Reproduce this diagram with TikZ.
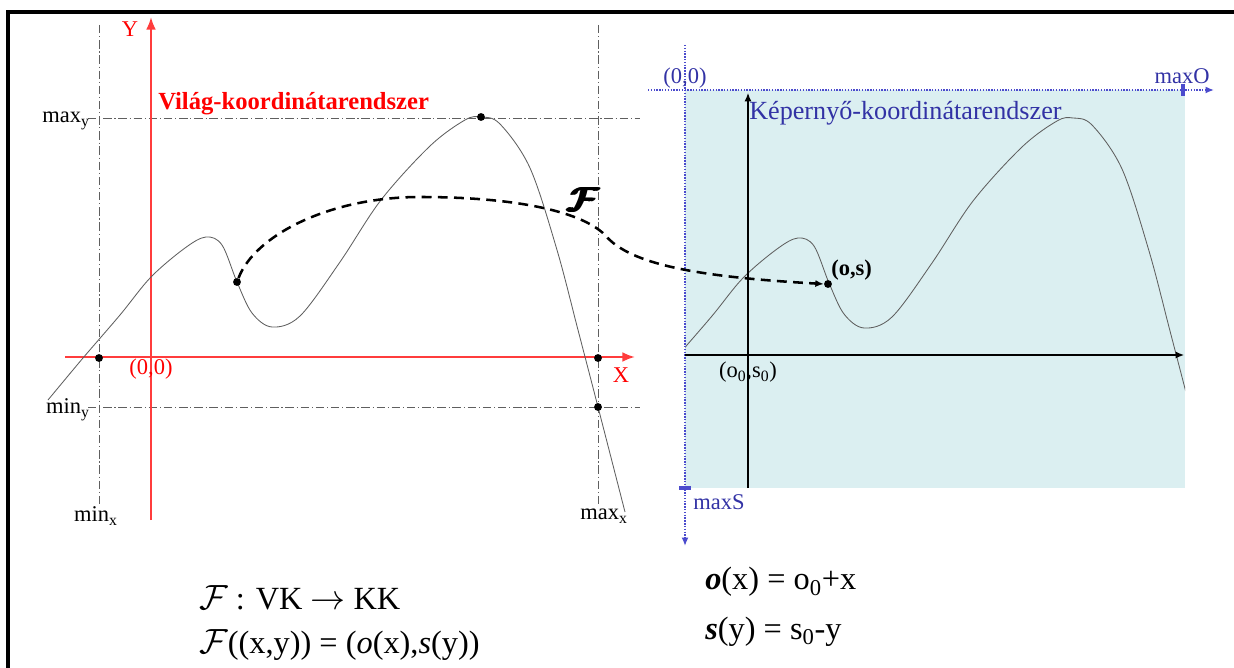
\documentclass[tikz,border=0pt]{standalone}
\usepackage{fontspec}
\setmainfont{Liberation Serif}
\usepackage{bm}
\usetikzlibrary{arrows.meta}

\definecolor{vilagpiros}{RGB}{255,0,0}
\definecolor{tengelypiros}{RGB}{255,60,60}
\definecolor{kepkek}{RGB}{50,50,165}
\definecolor{pontkek}{RGB}{75,75,205}
\definecolor{kepernyo}{RGB}{219,239,241}
\definecolor{gorbeszurke}{RGB}{95,95,95}

% vastag F (kezi felulnyomassal)
\newcommand{\vastagF}{\rlap{$\bm{\mathcal{F}}$}\kern0.035em\rlap{$\bm{\mathcal{F}}$}\kern0.035em$\bm{\mathcal{F}}$}

\tikzset{
  gorbe/.pic={
    \draw[gorbeszurke, line width=0.6pt] plot[smooth, tension=0.55] coordinates {
      (48,400) (83,358) (120,315) (151,277) (185,248) (206,237) (222,245)
      (237,282) (252,313) (272,327) (300,316) (340,262) (381,200) (430,146)
      (465,120) (481,117) (500,124) (530,168) (557,250) (578,330) (598,407) (625,512)};
  }
}

\begin{document}
\begin{tikzpicture}[
  x=0.025cm, y=-0.025cm,
  felirat/.style={inner sep=0pt, font=\fontsize{16}{18}\selectfont},
  keplet/.style={inner sep=0pt, anchor=west, font=\fontsize{23}{26}\selectfont},
  pont/.style={circle, fill=black, inner sep=0pt, minimum size=5.6pt},
  segedvonal/.style={gorbeszurke, line width=0.6pt, dash pattern=on 6pt off 2pt on 0.8pt off 2pt},
  vilagtengely/.style={tengelypiros, line width=1.5pt, -{Latex[length=9pt,width=7pt]}},
  kepernyotengely/.style={black, line width=0.8pt, -{Latex[length=6pt,width=5pt]}},
  pontozott/.style={pontkek, line width=1.4pt, dash pattern=on 1pt off 1pt, -{Latex[length=6pt,width=5pt]}},
  lekepezes/.style={line width=1.8pt, dash pattern=on 7pt off 4.5pt, -{Latex[length=6pt,width=5pt]}}
]
\useasboundingbox (0,0) rectangle (1234,668);
\draw[line width=2.2pt] (8,668) -- (8,12) -- (1234,12);

% kepernyo
\fill[kepernyo] (685,90) rectangle (1185,488);

% segedvonalak
\draw[segedvonal] (99,25) -- (99,505);
\draw[segedvonal] (598,25) -- (598,505);
\draw[segedvonal] (88,118) -- (640,118);
\draw[segedvonal] (88,407) -- (640,407);
\node[felirat, anchor=east] (maxy) at (90,121) {max\textsubscript{y}};
\node[felirat, anchor=east] (miny) at (90,410) {min\textsubscript{y}};
\node[felirat] (minx) at (96,516) {min\textsubscript{x}};
\node[felirat] (maxx) at (604,516) {max\textsubscript{x}};

% vilag-koordinatarendszer
\coordinate (ybal) at (151,520);
\coordinate (yfent) at (151,17);
\coordinate (xbal) at (65,357);
\coordinate (xjobb) at (635,357);
\draw[vilagtengely] (ybal) -- (yfent);
\draw[vilagtengely] (xbal) -- (xjobb);
\node[felirat, text=vilagpiros] (Y) at (130,29) {Y};
\node[felirat, text=vilagpiros] (X) at (621,375) {X};
\node[felirat, text=vilagpiros] (origo) at (151,369) {(0,0)};
\node[inner sep=0pt, anchor=west, text=vilagpiros, font=\bfseries\fontsize{17.5}{20}\selectfont]
  (vk) at (158,104) {Világ-koordinátarendszer};

\pic at (0,0) {gorbe};
\begin{scope}
  \clip (685,90) rectangle (1185,488);
  \pic at (592,1) {gorbe};
\end{scope}

% kepernyo-koordinatarendszer
\coordinate (obal) at (648,90);
\coordinate (ojobb) at (1214,90);
\coordinate (sfent) at (685,45);
\coordinate (salul) at (685,546);
\draw[pontozott] (obal) -- (ojobb);
\draw[pontozott] (sfent) -- (salul);
\draw[pontkek, line width=2.4pt] (1183,84) -- (1183,96);
\draw[pontkek, line width=2.4pt] (679,488) -- (691,488);
\node[felirat, text=kepkek] (origo2) at (685,78) {(0,0)};
\node[felirat, text=kepkek] (maxO) at (1182,76) {maxO};
\node[felirat, text=kepkek, anchor=west] (maxS) at (693,502) {maxS};
\node[inner sep=0pt, anchor=west, text=kepkek, font=\fontsize{18.6}{20}\selectfont]
  (kk) at (749,113) {Képernyő-koordinátarendszer};

\coordinate (salso) at (748,488);
\coordinate (sfelso) at (748,93);
\coordinate (obal2) at (685,355);
\coordinate (ojobb2) at (1184,355);
\draw[kepernyotengely] (salso) -- (sfelso);
\draw[kepernyotengely] (obal2) -- (ojobb2);
\node[felirat] (o0s0) at (748,372) {(o\textsubscript{0},s\textsubscript{0})};

% pontok
\node[pont] (csucs) at (481,117) {};
\node[pont] (pminx) at (99,358) {};
\node[pont] (pmaxx) at (598,358) {};
\node[pont] (pminy) at (598,407) {};
\node[pont] (p) at (237,282) {};
\node[pont] (q) at (828,284) {};
\node[felirat, font=\bfseries\fontsize{16}{18}\selectfont, anchor=west] (os) at (831,270) {(o,s)};

% lekepezes
\coordinate (m1) at (420,197);
\coordinate (m2) at (605,235);
\draw[lekepezes] (p) .. controls (255,235) and (330,197) .. (m1)
  .. controls (510,197) and (580,210) .. (m2)
  .. controls (630,265) and (700,277) .. (q.west);
\node[inner sep=0pt, font=\fontsize{27}{29}\selectfont] (F) at (583,199) {\vastagF};

% kepletek
\node[keplet] (k1) at (199,598) {$\mathcal{F}$ : VK $\rightarrow$ KK};
\node[keplet] (k2) at (199,645) {$\mathcal{F}$((x,y)) = (\textit{o}(x),\textit{s}(y))};
\node[keplet] (k3) at (705,582) {\textbf{\textit{o}}(x) = o\textsubscript{0}+x};
\node[keplet] (k4) at (705,632) {\textbf{\textit{s}}(y) = s\textsubscript{0}-y};
\end{tikzpicture}
\end{document}
